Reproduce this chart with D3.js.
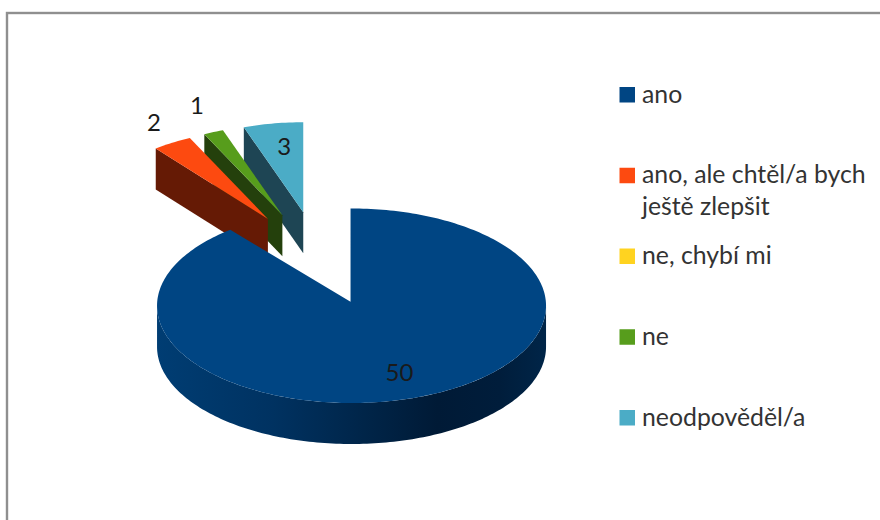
<!DOCTYPE html>
<html>
<head>
<meta charset="utf-8">
<script src="https://cdn.jsdelivr.net/npm/d3@7/dist/d3.min.js"></script>
<style>
html,body{margin:0;padding:0;background:#fff;overflow:hidden}
svg{display:block}
text{font-family:Lato,"Open Sans",sans-serif}
</style>
</head>
<body>
<svg id="c" width="880" height="520"></svg>
<script>
const categories = ["ano", "ano, ale chtěl/a bych ještě zlepšit", "ne, chybí mi", "ne", "neodpověděl/a"];
const values = [50, 2, 0, 1, 3];
const topColors = ["#004583", "#fd4a10", "#ffd320", "#579d1c", "#4bacc6"];
const sideColors = ["#002c55", "#651a05", "#665408", "#24400c", "#1e4554"];
const legendLines = [["ano"], ["ano, ale chtěl/a bych", "ještě zlepšit"], ["ne, chybí mi"], ["ne"], ["neodpověděl/a"]];

const svg = d3.select("#c");
const W = 880, H = 520;

// frame
svg.append("rect").attr("x", 7).attr("y", 13).attr("width", W + 20).attr("height", H + 20)
  .attr("fill", "#fff").attr("stroke", "#8f8f8f").attr("stroke-width", 2.4);

// 3D pie geometry
const centre = {x: 319.5, y: 260};   // centre of the un-exploded pie
const explode = 97;
const tilt = 0.5;
const R = 194.5;
const farFactor = 0.925;           // perspective shrink for the slices at the back
const depth = 41;
const apexLift = 4;                // main slice's tip sits a touch above its ellipse centre
const apexShift = -1;
const labelFactor = [0.73, 1.21, 1, 1.27, 0.70];
const farLabelNudge = [2, -4];
const line = d3.line();

const arcs = d3.pie().sort(null).value(d => d).startAngle(0).endAngle(2 * Math.PI)(values);
const slices = arcs.map((a, i) => {
  const mid = (a.startAngle + a.endAngle) / 2;
  const o = {
    x: centre.x + explode * Math.sin(mid),
    y: centre.y - explode * tilt * Math.cos(mid)
  };
  const r = R * (i === 0 ? 1 : farFactor);
  const pt = (ang, f = 1) => [o.x + r * f * Math.sin(ang), o.y - r * f * tilt * Math.cos(ang)];
  return {a, i, mid, o, r, pt};
});

function arcPts(s, a0, a1) {
  const n = Math.max(2, Math.ceil((a1 - a0) / 0.02));
  return d3.range(n + 1).map(k => s.pt(a0 + (a1 - a0) * k / n));
}

const defs = svg.append("defs");
const grad = defs.append("linearGradient").attr("id", "mainSide")
  .attr("gradientUnits", "userSpaceOnUse").attr("x1", 157).attr("x2", 546).attr("y1", 0).attr("y2", 0);
[[0, "#003d73"], [0.3, "#003261"], [0.55, "#002447"], [0.72, "#001a36"], [0.88, "#001d3b"], [1, "#002548"]]
  .forEach(([o, c]) => grad.append("stop").attr("offset", o).attr("stop-color", c));

const g = svg.append("g");

function drawSlice(s) {
  const {a, i, o} = s;
  if (a.endAngle - a.startAngle <= 0) return;
  const tip = i === 0 ? [o.x + apexShift, o.y - apexLift] : [o.x, o.y];
  if (i === 0) {
    // front wall: lower half of the ellipse, extruded
    const front = arcPts(s, Math.PI / 2, Math.min(3 * Math.PI / 2, a.endAngle));
    const wall = front.concat(front.slice().reverse().map(p => [p[0], p[1] + depth]));
    g.append("path").attr("d", line(wall) + "Z").attr("fill", "url(#mainSide)");
  } else {
    // radial wall on the leading edge
    const corner = s.pt(a.startAngle);
    const wall = [corner, tip, [tip[0], tip[1] + depth], [corner[0], corner[1] + depth]];
    g.append("path").attr("d", line(wall) + "Z").attr("fill", sideColors[i]);
  }
  let face;
  if (i === 0) {
    // the upright cut edge runs straight up from the shifted tip
    face = [tip, [tip[0], s.pt(a.startAngle)[1]]].concat(arcPts(s, a.startAngle, a.endAngle));
  } else {
    face = [tip].concat(arcPts(s, a.startAngle, a.endAngle));
  }
  g.append("path").attr("d", line(face) + "Z").attr("fill", topColors[i]);
}

// back to front: exploded slices from right to left, then the big slice on top
[4, 3, 2, 1, 0].forEach(i => drawSlice(slices[i]));

// value labels
slices.forEach(s => {
  if (values[s.i] === 0) return;
  const p = s.pt(s.mid, labelFactor[s.i]);
  const nudge = s.i === 0 ? [1, 0] : farLabelNudge;
  svg.append("text").attr("x", p[0] + nudge[0]).attr("y", p[1] + nudge[1]).attr("dy", "0.36em")
    .attr("text-anchor", "middle").attr("font-size", 24).attr("fill", "#1a1a1a").text(values[s.i]);
});

// legend
const legendY = d3.scalePoint().domain(d3.range(categories.length)).range([94.5, 417.5]);
const leg = svg.append("g");
legendLines.forEach((lines, i) => {
  const y = legendY(i);
  leg.append("rect").attr("x", 619.5).attr("y", y - 7.5).attr("width", 15.5).attr("height", 15.5)
    .attr("fill", topColors[i]);
  lines.forEach((t, k) => {
    leg.append("text").attr("x", 642).attr("y", y + 8 + k * 31.5)
      .attr("font-size", 24.8).attr("fill", "#333").text(t);
  });
});
</script>
</body>
</html>
